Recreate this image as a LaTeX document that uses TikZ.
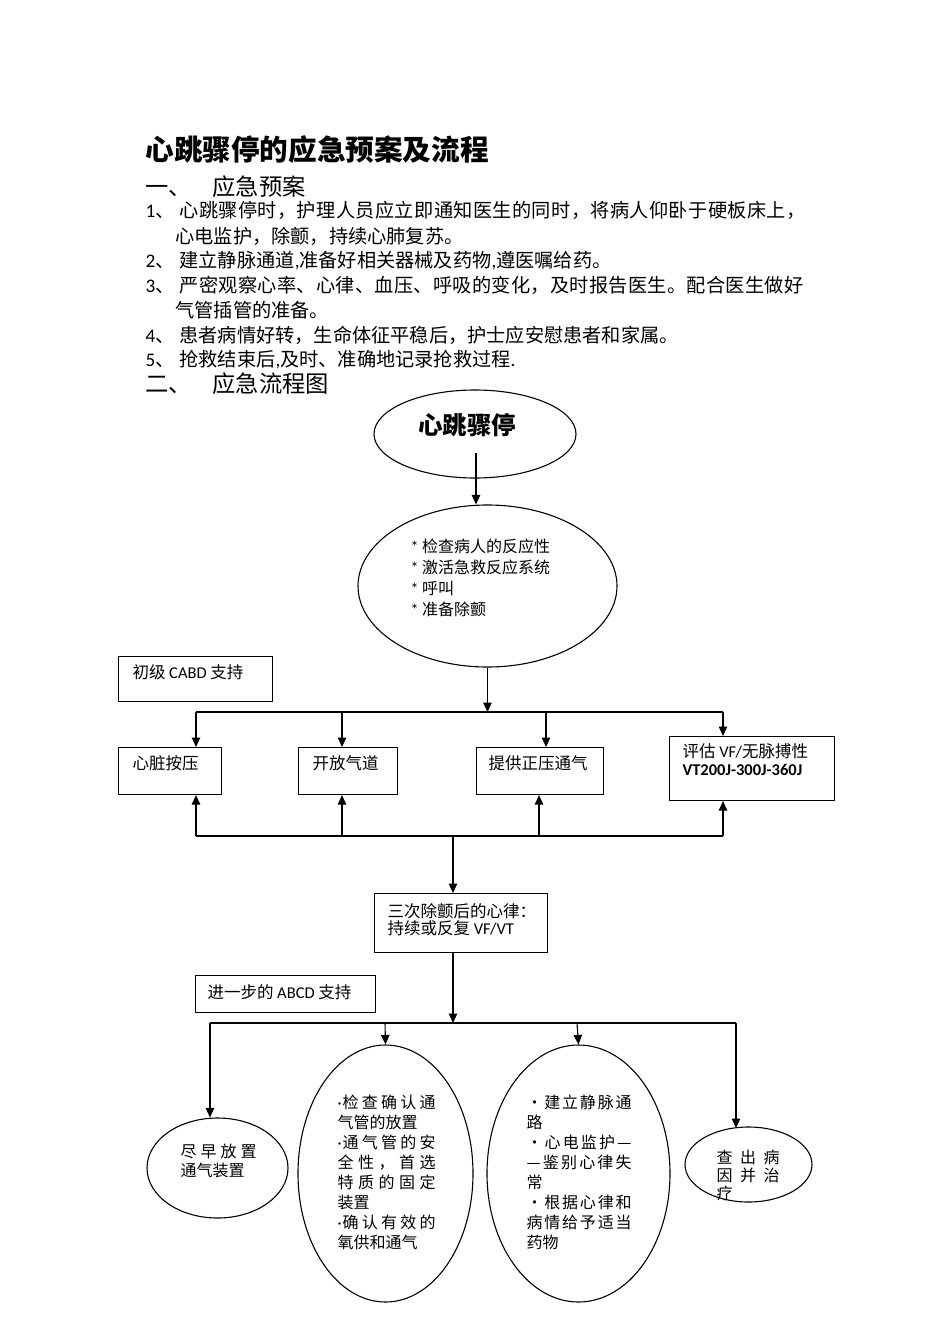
\documentclass[tikz,border=0pt]{standalone}
\usepackage{fontspec}
\setmainfont{Noto Sans CJK SC}
\newfontfamily\lat{Carlito}
\usetikzlibrary{shapes.geometric,arrows.meta}
\newcommand\gp{\hskip 0pt plus 3pt\relax}
\def\sprEnd{sprEndMarker}
\def\spr#1{\sprB#1\sprEnd}
\def\sprB#1{\ifx#1\sprEnd\else #1\expandafter\sprC\fi}
\def\sprC#1{\ifx#1\sprEnd\else\gp #1\expandafter\sprC\fi}
\newcommand\jline[2]{\makebox[#1][s]{#2}}
\newcommand\ndot{{\lat ·}\hspace{1pt}}
\begin{document}
\begin{tikzpicture}[x=1pt,y=-1pt,line width=1.1pt,
  arr/.style={-{Triangle[length=9.5pt,width=8.5pt]}},
  bx/.style={draw,rectangle,anchor=north west,inner sep=0pt},
  ov/.style={draw,ellipse,inner sep=0pt},
  tx/.style={anchor=west,inner sep=0pt},
  mt/.style={anchor=north west,inner sep=0pt,align=left},
  body/.style={font=\fontsize{19.2}{24}\selectfont},
  head/.style={font=\fontsize{23.3}{26}\selectfont},
  small/.style={font=\fontsize{16.5}{18}\selectfont},
]
\useasboundingbox (0,0) rectangle (950,1344);

% ---------- text part ----------
\node[tx,font=\fontsize{28.6}{30}\selectfont\bfseries] (title) at (145,150) {心跳骤停的应急预案及流程};
\node[tx,head] (h1) at (145,187) {\makebox[67pt][l]{一、}应急预案};
\node[tx,body] (l1) at (145,210.5) {\makebox[34pt][l]{{\lat 1}、}\jline{626pt}{\spr{心跳骤停时，护理人员应立即通知医生的同时，将病人仰卧于硬板床上，}}};
\node[tx,body] (l2) at (175,236) {心电监护，除颤，持续心肺复苏。};
\node[tx,body] (l3) at (145,261) {\makebox[34pt][l]{{\lat 2}、}建立静脉通道{\lat ,}准备好相关器械及药物{\lat ,}遵医嘱给药。};
\node[tx,body] (l4) at (145,285.5) {\makebox[34pt][l]{{\lat 3}、}\jline{624pt}{\spr{严密观察心率、心律、血压、呼吸的变化，及时报告医生。配合医生做好}}};
\node[tx,body] (l5) at (175,310.5) {气管插管的准备。};
\node[tx,body] (l6) at (145,335) {\makebox[34pt][l]{{\lat 4}、}患者病情好转，生命体征平稳后，护士应安慰患者和家属。};
\node[tx,body] (l7) at (145,359.5) {\makebox[34pt][l]{{\lat 5}、}抢救结束后{\lat ,}及时、准确地记录抢救过程{\lat .}};
\node[tx,head] (h2) at (145,384) {\makebox[67pt][l]{二、}应急流程图};

% ---------- flow chart ----------
\node[ov,minimum width=202,minimum height=88] (e1) at (475,434) {};
\node[font=\fontsize{24.5}{26}\selectfont\bfseries,inner sep=0pt] (e1t) at (467,425) {心跳骤停};

\node[ov,minimum width=259,minimum height=162] (e2) at (487.5,586) {};
\node[mt,font=\fontsize{16}{21}\selectfont] (e2t) at (410,538.8) {{\lat *} 检查病人的反应性\\{\lat *} 激活急救反应系统\\{\lat *} 呼叫\\{\lat *} 准备除颤};

\coordinate (e1s) at (476,453);
\draw[arr] (e1s) -- (e1s |- e2.north);

\node[bx,minimum width=154,minimum height=45] (c0) at (118,656) {};
\node[tx,small] (c0t) at (132,672) {初级 {\lat CABD} 支持};

\node[bx,minimum width=103,minimum height=47] (b1) at (118,747) {};
\node[bx,minimum width=99,minimum height=47] (b2) at (298,747) {};
\node[bx,minimum width=127,minimum height=47] (b3) at (476,747) {};
\node[bx,minimum width=165,minimum height=64] (b4) at (669,736) {};
\node[tx,small] (b1t) at (132,763) {心脏按压};
\node[tx,small] (b2t) at (312,763) {开放气道};
\node[tx,small] (b3t) at (488,763) {提供正压通气};
\node[mt,small] (b4t) at (682,742.6) {评估 {\lat VF/}无脉搏性\\{\lat\bfseries VT200J-300J-360J}};

% top bus
\coordinate (t0) at (487.5,712);
\coordinate (tl) at (196,712);
\coordinate (tr) at (723,712);
\draw[arr] (e2.south) -- (t0);
\draw (tl) -- (tr);
\draw[arr] (tl) -- (b1.north -| tl);
\draw[arr] (342,712) -- (b2.north -| 342,0);
\draw[arr] (546,712) -- (b3.north -| 546,0);
\draw[arr] (tr) -- (b4.north -| tr);

% bottom bus
\coordinate (ul) at (196,836);
\coordinate (ur) at (723,836);
\coordinate (um) at (453,836);
\draw (ul) -- (ur);
\draw[arr] (ul) -- (b1.south -| ul);
\draw[arr] (342,836) -- (b2.south -| 342,0);
\draw[arr] (539,836) -- (b3.south -| 539,0);
\draw[arr] (ur) -- (b4.south -| ur);

\node[bx,minimum width=173,minimum height=59] (b5) at (374,893) {};
\node[mt,font=\fontsize{16.5}{17}\selectfont] (b5t) at (387,902.6) {三次除颤后的心律：\\持续或反复 {\lat VF/VT}};
\draw[arr] (um) -- (um |- b5.north);

\node[bx,minimum width=180,minimum height=37] (b6) at (195,975) {};
\node[tx,small] (b6t) at (207,992) {进一步的 {\lat ABCD} 支持};

% lower bus
\coordinate (d0) at (453,1023);
\coordinate (dl) at (210,1023);
\coordinate (dr) at (736,1023);
\draw[arr] (b5.south -| d0) -- (d0);
\draw (dl) -- (dr);

\node[ov,minimum width=141,minimum height=100] (f1) at (217.5,1168) {};
\node[ov,minimum width=175,minimum height=257] (f2) at (385.5,1173.5) {};
\node[ov,minimum width=183,minimum height=257] (f3) at (578.5,1173.5) {};
\node[ov,minimum width=127,minimum height=75] (f4) at (748.5,1164.5) {};

\draw[arr] (dl) -- (dl |- f1.north);
\draw[arr] (385,1023) -- (f2.north);
\draw[arr] (577,1023) -- (f3.north);
\draw[arr] (dr) -- (736,1128);

\node[mt,font=\fontsize{16}{19}\selectfont] (f1t) at (180,1143.8) {\jline{76pt}{\spr{尽早放置}}\\通气装置};
\node[mt,font=\fontsize{16}{20}\selectfont] (f2t) at (337,1094.8) {\jline{98pt}{\ndot\spr{检查确认通}}\\气管的放置\\\jline{98pt}{\ndot\spr{通气管的安}}\\\jline{98pt}{\spr{全性，首选}}\\\jline{98pt}{\spr{特质的固定}}\\装置\\\jline{98pt}{\ndot\spr{确认有效的}}\\氧供和通气};
\node[mt,font=\fontsize{16}{20}\selectfont] (f3t) at (526,1094.8) {\jline{105pt}{\spr{·建立静脉通}}\\路\\\jline{105pt}{\spr{·心电监护—}}\\\jline{105pt}{\spr{—鉴别心律失}}\\常\\\jline{105pt}{\spr{·根据心律和}}\\\jline{105pt}{\spr{病情给予适当}}\\药物};
\node[mt,font=\fontsize{16}{18}\selectfont] (f4t) at (716,1149.8) {\jline{63pt}{\spr{查出病}}\\\jline{63pt}{\spr{因并治}}\\疗};
\end{tikzpicture}
\end{document}
